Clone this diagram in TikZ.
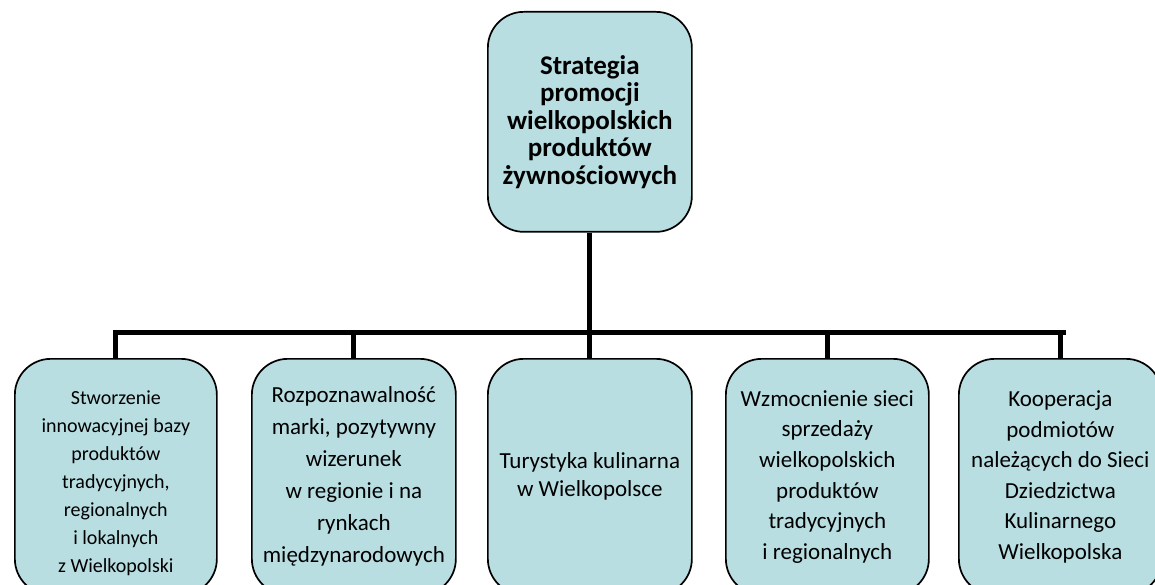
\documentclass[tikz,border=0pt]{standalone}
\usepackage{fontspec}
\setmainfont{Carlito}
\definecolor{boxfill}{RGB}{184,222,226}
\tikzset{
  box/.style={draw=black, line width=1.7pt, fill=boxfill, rounded corners=36pt,
    align=center, inner sep=0pt, anchor=north west},
  link/.style={draw=black, line width=5pt},
}
\begin{document}
\begin{tikzpicture}[x=1pt,y=-1pt]
\useasboundingbox (0,0) rectangle (1155,585);
% positions
\coordinate (busL) at (115,332);
\coordinate (busR) at (1063,332);
% top box
\node[box, minimum width=204pt, minimum height=220pt,
  font={\fontsize{27}{27.5}\selectfont\bfseries}] (top) at (487,11)
  {Strategia\\promocji\\wielkopolskich\\produktów\\żywnościowych};
% bottom boxes
\node[box, minimum width=202pt, minimum height=236pt] (b1) at (14,358) {};
\node[align=center, inner sep=0pt, font={\fontsize{20}{28}\selectfont}] (b1t)
  at ([yshift=-6pt]b1.center)
  {Stworzenie\\innowacyjnej bazy\\produktów\\tradycyjnych,\\regionalnych\\i lokalnych\\z Wielkopolski};
\node[box, minimum width=204pt, minimum height=236pt,
  font={\fontsize{23}{32}\selectfont}] (b2) at (251,358)
  {Rozpoznawalność\\marki, pozytywny\\wizerunek\\w regionie i na\\rynkach\\międzynarodowych};
\node[box, minimum width=204pt, minimum height=236pt,
  font={\fontsize{23}{28}\selectfont}] (b3) at (487,358)
  {Turystyka kulinarna\\w Wielkopolsce};
\node[box, minimum width=203pt, minimum height=236pt,
  font={\fontsize{23}{30.6}\selectfont}] (b4) at (725,358)
  {Wzmocnienie sieci\\sprzedaży\\wielkopolskich\\produktów\\tradycyjnych\\i regionalnych};
\node[box, minimum width=203pt, minimum height=236pt,
  font={\fontsize{23}{30.6}\selectfont}] (b5) at (958,358)
  {Kooperacja\\podmiotów\\należących do Sieci\\Dziedzictwa\\Kulinarnego\\Wielkopolska};
% connectors
\draw[link] (top.south) -- (top.south |- busL);
\draw[link, line cap=rect] (busL) -- (busR);
\foreach \n in {b1,b2,b3,b4,b5}{
  \draw[link] (\n.north) -- (\n.north |- busL);
}
\end{tikzpicture}
\end{document}
